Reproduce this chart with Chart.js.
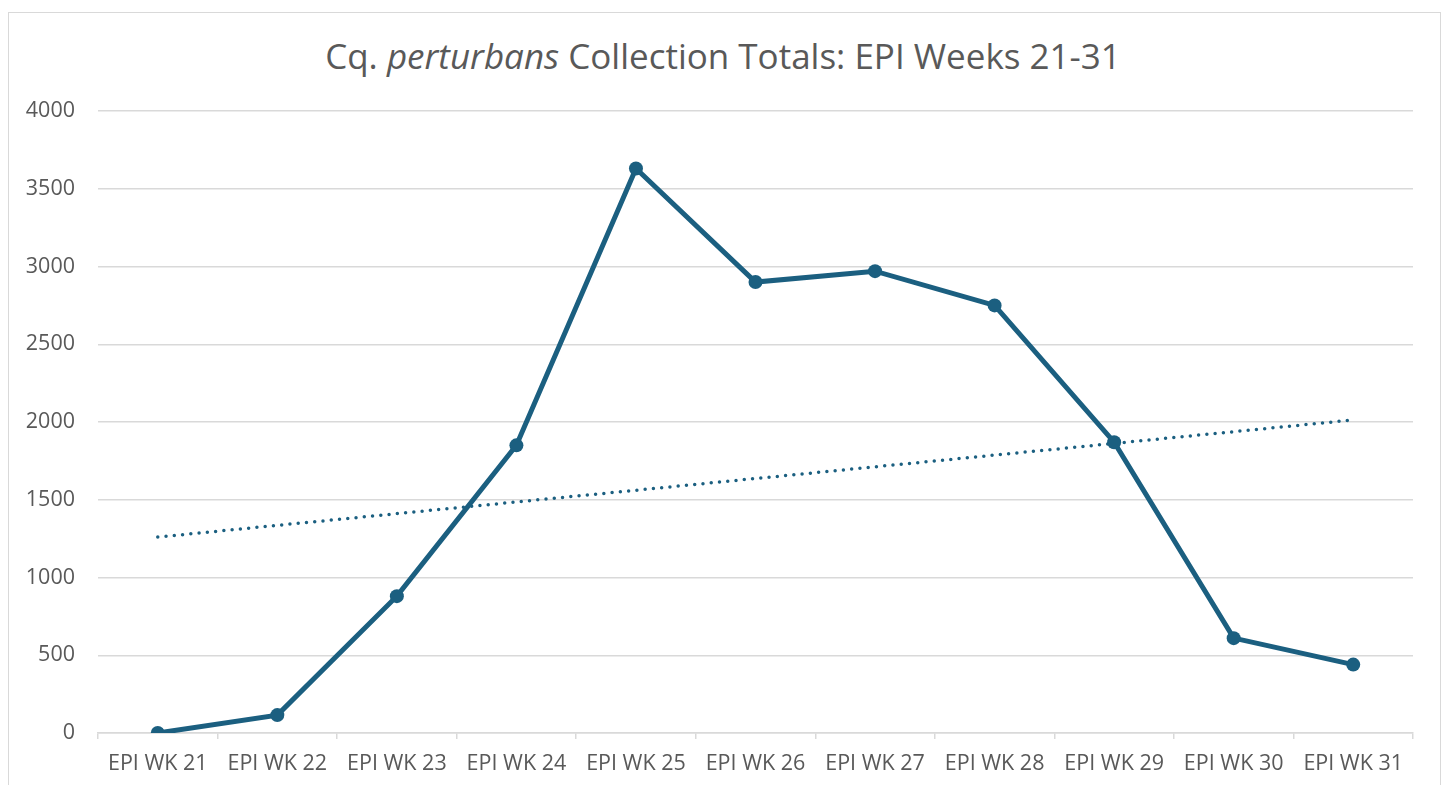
<!DOCTYPE html>
<html>
<head>
<meta charset="utf-8">
<script src="https://cdn.jsdelivr.net/npm/chart.js@4.4.1/dist/chart.umd.min.js"></script>
<style>
  html, body { margin: 0; padding: 0; background: #fff; }
  #frame { position: absolute; left: 8px; top: 12px; width: 1433px; height: 800px;
           border: 1.5px solid #d9d9d9; box-sizing: border-box; }
  #title { position: absolute; left: 0; width: 1446px; top: 32px; text-align: center;
           font-family: "Open Sans", sans-serif; font-size: 35px; color: #595959; }
  #wrap { position: absolute; left: 0; top: 0; width: 1446px; height: 785px; }
</style>
</head>
<body>
<div id="frame"></div>
<div id="title">Cq. <i>perturbans</i> Collection Totals: EPI Weeks 21-31</div>
<div id="wrap"><canvas id="c"></canvas></div>
<script>
const weeks = ["EPI WK 21", "EPI WK 22", "EPI WK 23", "EPI WK 24", "EPI WK 25", "EPI WK 26",
               "EPI WK 27", "EPI WK 28", "EPI WK 29", "EPI WK 30", "EPI WK 31"];
const totals = [0, 115, 880, 1850, 3630, 2900, 2970, 2750, 1870, 610, 440];
// linear trendline ends
const trend = [1260, null, null, null, null, null, null, null, null, null, 2013];

const blue = "#1b5f80";
const grey = "#595959";
const gridCol = "#d9d9d9";
const tickFont = { family: "'Open Sans', sans-serif", size: 21.5 };

const ctx = document.getElementById("c");
new Chart(ctx, {
  type: "line",
  data: {
    labels: weeks,
    datasets: [
      {
        data: totals,
        borderColor: blue,
        backgroundColor: blue,
        borderWidth: 5,
        pointRadius: 7,
        pointBorderWidth: 0,
        tension: 0
      },
      {
        data: trend,
        spanGaps: true,
        borderColor: blue,
        borderWidth: 3.5,
        borderDash: [0, 8.3],
        borderCapStyle: "round",
        pointRadius: 0,
        tension: 0
      }
    ]
  },
  options: {
    responsive: true,
    maintainAspectRatio: false,
    animation: false,
    layout: { padding: { top: 111, right: 33, left: 0, bottom: 0 } },
    plugins: { legend: { display: false }, title: { display: false }, tooltip: { enabled: false } },
    scales: {
      x: {
        offset: true,
        grid: { offset: true, drawOnChartArea: false, color: gridCol, lineWidth: 1.5, tickLength: 6 },
        border: { color: gridCol, width: 1.5 },
        ticks: { color: grey, font: tickFont, padding: 12, maxRotation: 0, autoSkip: false },
        afterFit: s => { s.height = 52; }
      },
      y: {
        min: 0,
        max: 4000,
        ticks: { stepSize: 500, color: grey, font: tickFont, padding: 23, callback: v => String(v) },
        grid: { color: gridCol, lineWidth: 1.5, drawTicks: false },
        border: { display: false },
        afterFit: s => { s.width = 98; }
      }
    }
  }
});
</script>
</body>
</html>
